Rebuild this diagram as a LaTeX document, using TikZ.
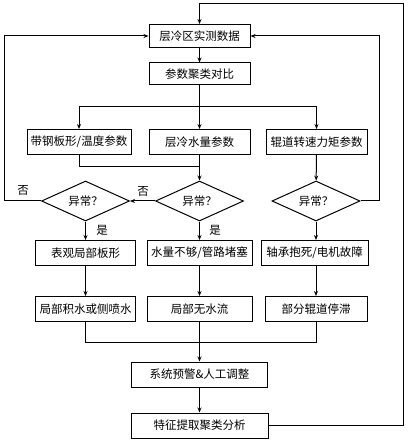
\documentclass[tikz,border=0pt]{standalone}
\usepackage{fontspec}
\usepackage{tikz}
\usetikzlibrary{shapes.geometric, arrows.meta}
\newfontfamily\cjk{Noto Sans CJK SC}

\begin{document}
\begin{tikzpicture}[x=1pt, y=-1pt, line width=1pt,
    box/.style={draw, rectangle, minimum height=25pt, inner sep=0pt, font=\cjk\fontsize{11.5}{13}\selectfont},
    decide/.style={draw, diamond, aspect=2.2, minimum width=88pt, minimum height=40pt, inner sep=0pt, font=\cjk\fontsize{11.5}{13}\selectfont},
    lbl/.style={font=\cjk\fontsize{11.5}{13}\selectfont},
    arr/.style={-{Stealth[length=5pt, width=4pt]}}]
      \useasboundingbox (0,0) rectangle (407,443);

      % 1. 实测数据与聚类
      \node[box, minimum width=101pt, minimum height=23pt] (data) at (199.5,36) {层冷区实测数据};
      \node[box, minimum width=101pt, minimum height=22pt] (cluster) at (199.5,74) {参数聚类对比};

      % 2. 三类参数
      \node[box, minimum width=104pt] (strip) at (79,142) {带钢板形/温度参数};
      \node[box, minimum width=101pt] (water) at (199.5,142) {层冷水量参数};
      \node[box, minimum width=101pt] (roll) at (316.5,142) {辊道转速力矩参数};

      % 3. 异常判断
      \node[decide] (chk1) at (85.5,201) {异常？};
      \node[decide] (chk2) at (199.5,201) {异常？};
      \node[decide] (chk3) at (316,201) {异常？};

      % 4. 故障原因与现象
      \node[box, minimum width=100pt] (shape) at (85.5,253) {表观局部板形};
      \node[box, minimum width=105pt] (block) at (199.5,253) {水量不够/管路堵塞};
      \node[box, minimum width=107pt] (motor) at (314.5,253) {轴承抱死/电机故障};
      \node[box, minimum width=100pt] (spray) at (85.5,309) {局部积水或侧喷水};
      \node[box, minimum width=105pt] (noflow) at (199.5,309) {局部无水流};
      \node[box, minimum width=102pt] (stall) at (316,309) {部分辊道停滞};

      % 5. 预警与分析
      \node[box, minimum width=136pt] (alarm) at (199.5,374.5) {系统预警\&人工调整};
      \node[box, minimum width=137pt] (feature) at (199.5,425.5) {特征提取聚类分析};

      \coordinate (fork) at (199.5,107);
      \coordinate (join) at (199.5,167);
      \coordinate (merge) at (199.5,342);
      \coordinate (leftrail) at (4,0);
      \coordinate (rightrail) at (379,0);
      \coordinate (top) at (403,4);

      % 6. 连线
      \draw[arr] (data) -- (cluster);
      \draw[arr] (cluster) -- (water);
      \draw[arr] (fork) -| (strip.north);
      \draw[arr] (fork) -| (roll.north);
      \draw (strip.south) |- (join);
      \draw[arr] (water) -- (chk2);
      \draw[arr] (roll) -- (chk3);
      \draw[arr] (chk2.west) -- (chk1.east);
      \draw[arr] (chk1.west) -- (chk1.west -| leftrail) |- (data.west);
      \draw[arr] (chk3.east) -- (chk3.east -| rightrail) |- (data.east);
      \draw[arr] (chk1) -- (shape);
      \draw[arr] (chk2) -- (block);
      \draw[arr] (chk3.south) -- (chk3.south |- motor.north);
      \draw[arr] (shape) -- (spray);
      \draw[arr] (block) -- (noflow);
      \draw[arr] (motor.south -| stall.north) -- (stall.north);
      \draw (spray.south) |- (merge);
      \draw (stall.south) |- (merge);
      \draw[arr] (noflow) -- (alarm);
      \draw[arr] (alarm) -- (feature);
      \draw[arr] (feature.east) -| (top) -| (data.north);

      % 7. 是/否
      \node[lbl] (no1) at (23,190) {否};
      \node[lbl] (no2) at (143,191) {否};
      \node[lbl] (yes1) at (102,230) {是};
      \node[lbl] (yes2) at (215,230) {是};
\end{tikzpicture}
\end{document}
